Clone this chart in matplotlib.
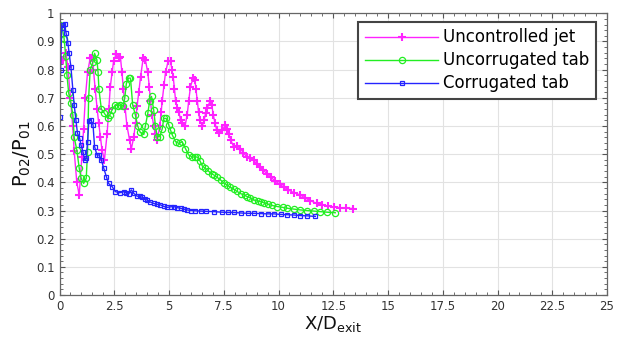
import matplotlib.pyplot as plt
from matplotlib.ticker import MultipleLocator

# values
unc_x = [0.05, 0.15, 0.3, 0.38, 0.5, 0.6, 0.67, 0.79, 0.9, 1.02, 1.1, 1.18, 1.28, 1.4, 1.48, 1.55,
         1.63, 1.72, 1.79, 1.87, 1.94, 2.05, 2.17, 2.25, 2.32, 2.4, 2.47, 2.6, 2.7, 2.78, 2.85, 2.92,
         3.0, 3.08, 3.2, 3.28, 3.39, 3.47, 3.54, 3.62, 3.7, 3.82, 3.92, 4.03, 4.1, 4.15, 4.22, 4.3,
         4.38, 4.46, 4.58, 4.64, 4.69, 4.77, 4.84, 4.96, 5.07, 5.13, 5.19, 5.25, 5.3, 5.38, 5.45,
         5.53, 5.6, 5.73, 5.83, 5.9, 5.98, 6.1, 6.18, 6.23, 6.29, 6.35, 6.41, 6.52, 6.6, 6.67, 6.75,
         6.88, 6.95, 7.02, 7.1, 7.18, 7.28, 7.43, 7.57, 7.66, 7.74, 7.82, 7.95, 8.1, 8.25, 8.4, 8.55,
         8.7, 8.87, 9.0, 9.15, 9.3, 9.47, 9.65, 9.85, 10.05, 10.23, 10.45, 10.7, 11.0, 11.2, 11.45,
         11.75, 12.0, 12.25, 12.51, 12.8, 13.1, 13.42]
unc_y = [0.835, 0.835, 0.858, 0.81, 0.70, 0.60, 0.51, 0.40, 0.355, 0.49, 0.59, 0.70, 0.79, 0.84,
         0.843, 0.80, 0.73, 0.66, 0.61, 0.56, 0.515, 0.48, 0.57, 0.66, 0.74, 0.79, 0.83, 0.855,
         0.84, 0.845, 0.79, 0.73, 0.66, 0.60, 0.55, 0.52, 0.56, 0.61, 0.67, 0.72, 0.775, 0.84,
         0.835, 0.79, 0.74, 0.69, 0.64, 0.60, 0.57, 0.55, 0.60, 0.65, 0.69, 0.745, 0.79, 0.83,
         0.83, 0.80, 0.775, 0.73, 0.69, 0.665, 0.65, 0.62, 0.61, 0.60, 0.64, 0.69, 0.74, 0.77,
         0.765, 0.73, 0.69, 0.65, 0.62, 0.60, 0.62, 0.645, 0.665, 0.689, 0.675, 0.64, 0.61, 0.585,
         0.575, 0.585, 0.603, 0.59, 0.57, 0.55, 0.526, 0.53, 0.52, 0.505, 0.49, 0.485, 0.479,
         0.465, 0.455, 0.443, 0.431, 0.418, 0.405, 0.393, 0.384, 0.373, 0.363, 0.355, 0.345,
         0.335, 0.325, 0.32, 0.316, 0.313, 0.31, 0.308, 0.307]

flat_x = [0.03, 0.12, 0.21, 0.28, 0.34, 0.42, 0.52, 0.61, 0.67, 0.79, 0.9, 0.99, 1.1, 1.22, 1.28,
          1.33, 1.4, 1.53, 1.6, 1.71, 1.76, 1.8, 1.91, 2.05, 2.2, 2.3, 2.4, 2.55, 2.65, 2.78, 2.9,
          2.98, 3.05, 3.15, 3.24, 3.34, 3.46, 3.57, 3.69, 3.85, 3.92, 4.03, 4.12, 4.2, 4.3, 4.38,
          4.46, 4.58, 4.69, 4.76, 4.87, 4.99, 5.07, 5.15, 5.3, 5.45, 5.6, 5.75, 5.9, 6.06, 6.18,
          6.29, 6.42, 6.52, 6.65, 6.8, 6.95, 7.05, 7.19, 7.36, 7.5, 7.66, 7.8, 7.95, 8.1, 8.27,
          8.45, 8.58, 8.71, 8.89, 9.05, 9.19, 9.35, 9.5, 9.7, 9.95, 10.2, 10.4, 10.7, 11.0, 11.3,
          11.6, 11.9, 12.2, 12.59]
flat_y = [0.958, 0.95, 0.91, 0.85, 0.78, 0.716, 0.68, 0.64, 0.56, 0.515, 0.45, 0.414, 0.396, 0.414,
          0.509, 0.70, 0.80, 0.828, 0.858, 0.834, 0.79, 0.73, 0.66, 0.645, 0.627, 0.64, 0.657,
          0.675, 0.672, 0.675, 0.67, 0.70, 0.75, 0.77, 0.77, 0.675, 0.64, 0.60, 0.577, 0.57, 0.60,
          0.645, 0.69, 0.705, 0.657, 0.60, 0.562, 0.562, 0.59, 0.627, 0.627, 0.603, 0.585, 0.568,
          0.544, 0.538, 0.544, 0.52, 0.497, 0.49, 0.49, 0.49, 0.475, 0.458, 0.45, 0.44, 0.43,
          0.426, 0.418, 0.408, 0.398, 0.39, 0.382, 0.376, 0.368, 0.36, 0.354, 0.349, 0.345, 0.337,
          0.333, 0.331, 0.327, 0.323, 0.318, 0.314, 0.311, 0.308, 0.305, 0.302, 0.30, 0.298,
          0.296, 0.294, 0.292]

corr_x = [0.0, 0.05, 0.1, 0.18, 0.23, 0.3, 0.38, 0.44, 0.52, 0.61, 0.67, 0.75, 0.82, 0.92, 0.98,
          1.07, 1.15, 1.22, 1.28, 1.34, 1.43, 1.53, 1.6, 1.71, 1.82, 1.91, 2.02, 2.14, 2.24, 2.4,
          2.55, 2.75, 2.93, 3.05, 3.16, 3.28, 3.39, 3.54, 3.66, 3.77, 3.9, 4.0, 4.15, 4.3, 4.45,
          4.61, 4.75, 4.92, 5.07, 5.22, 5.38, 5.53, 5.68, 5.83, 6.0, 6.2, 6.44, 6.7, 7.05, 7.4,
          7.7, 7.97, 8.3, 8.6, 8.89, 9.2, 9.5, 9.8, 10.1, 10.4, 10.7, 11.0, 11.3, 11.68]
corr_y = [0.633, 0.80, 0.947, 0.958, 0.962, 0.93, 0.896, 0.858, 0.81, 0.728, 0.675, 0.62, 0.574,
          0.556, 0.532, 0.509, 0.479, 0.485, 0.544, 0.619, 0.621, 0.604, 0.527, 0.497, 0.497,
          0.479, 0.45, 0.42, 0.396, 0.385, 0.367, 0.363, 0.367, 0.362, 0.359, 0.373, 0.361, 0.351,
          0.35, 0.347, 0.34, 0.337, 0.33, 0.325, 0.322, 0.32, 0.315, 0.311, 0.313, 0.314, 0.31,
          0.308, 0.305, 0.302, 0.30, 0.299, 0.298, 0.297, 0.296, 0.294, 0.293, 0.293, 0.291, 0.29,
          0.29, 0.289, 0.288, 0.288, 0.286, 0.285, 0.284, 0.282, 0.281, 0.279]

labels = ['Uncontrolled jet', 'Uncorrugated tab', 'Corrugated tab']

plt.rcParams['font.family'] = ['DejaVu Sans']

fig = plt.figure(figsize=(6.18, 3.45), dpi=100)
ax = fig.add_axes([0.0963, 0.1449, 0.886, 0.8165])

ax.plot(unc_x, unc_y, color='#ff22ff', lw=1.0, marker='+', ms=5.5, mew=1.5, label=labels[0])
ax.plot(flat_x, flat_y, color='#22ee22', lw=1.0, marker='o', ms=4.5, mfc='none', mew=0.9,
        label=labels[1])
ax.plot(corr_x, corr_y, color='#2424ff', lw=1.0, marker='s', ms=2.8, mfc='none', mew=0.9,
        label=labels[2])

ax.set_xlim(0, 25)
ax.set_ylim(0, 1)
ax.xaxis.set_major_locator(MultipleLocator(2.5))
ax.xaxis.set_minor_locator(MultipleLocator(0.5))
ax.yaxis.set_major_locator(MultipleLocator(0.1))
ax.yaxis.set_minor_locator(MultipleLocator(0.02))
ax.xaxis.set_major_formatter(plt.FuncFormatter(lambda v, p: ('%g' % v)))
ax.yaxis.set_major_formatter(plt.FuncFormatter(lambda v, p: ('%g' % v)))

ax.grid(True, which='major', color='#e2e2e2', lw=0.8)
ax.set_axisbelow(True)
ax.tick_params(which='both', direction='in', top=True, right=True, colors='#555555',
               labelcolor='#333333', labelsize=8.5)
ax.tick_params(which='major', length=3.5)
ax.tick_params(which='minor', length=2)
for s in ax.spines.values():
    s.set_color('#666666')
    s.set_linewidth(0.9)

ax.set_xlabel(r'X/D$_{\mathregular{exit}}$', fontsize=13, color='#111111', labelpad=1)
ax.set_ylabel(r'P$_{\mathregular{02}}$/P$_{\mathregular{01}}$', fontsize=14, color='#111111',
              labelpad=2)

leg = ax.legend(loc='upper right', bbox_to_anchor=(0.98, 0.97), borderaxespad=0, fontsize=12,
                handlelength=4.4, numpoints=1, fancybox=False, framealpha=1, labelspacing=0.3,
                borderpad=0.4, handletextpad=0.3)
leg.get_frame().set_edgecolor('#444444')
leg.get_frame().set_linewidth(1.5)

fig.savefig('out.png', dpi=100)
